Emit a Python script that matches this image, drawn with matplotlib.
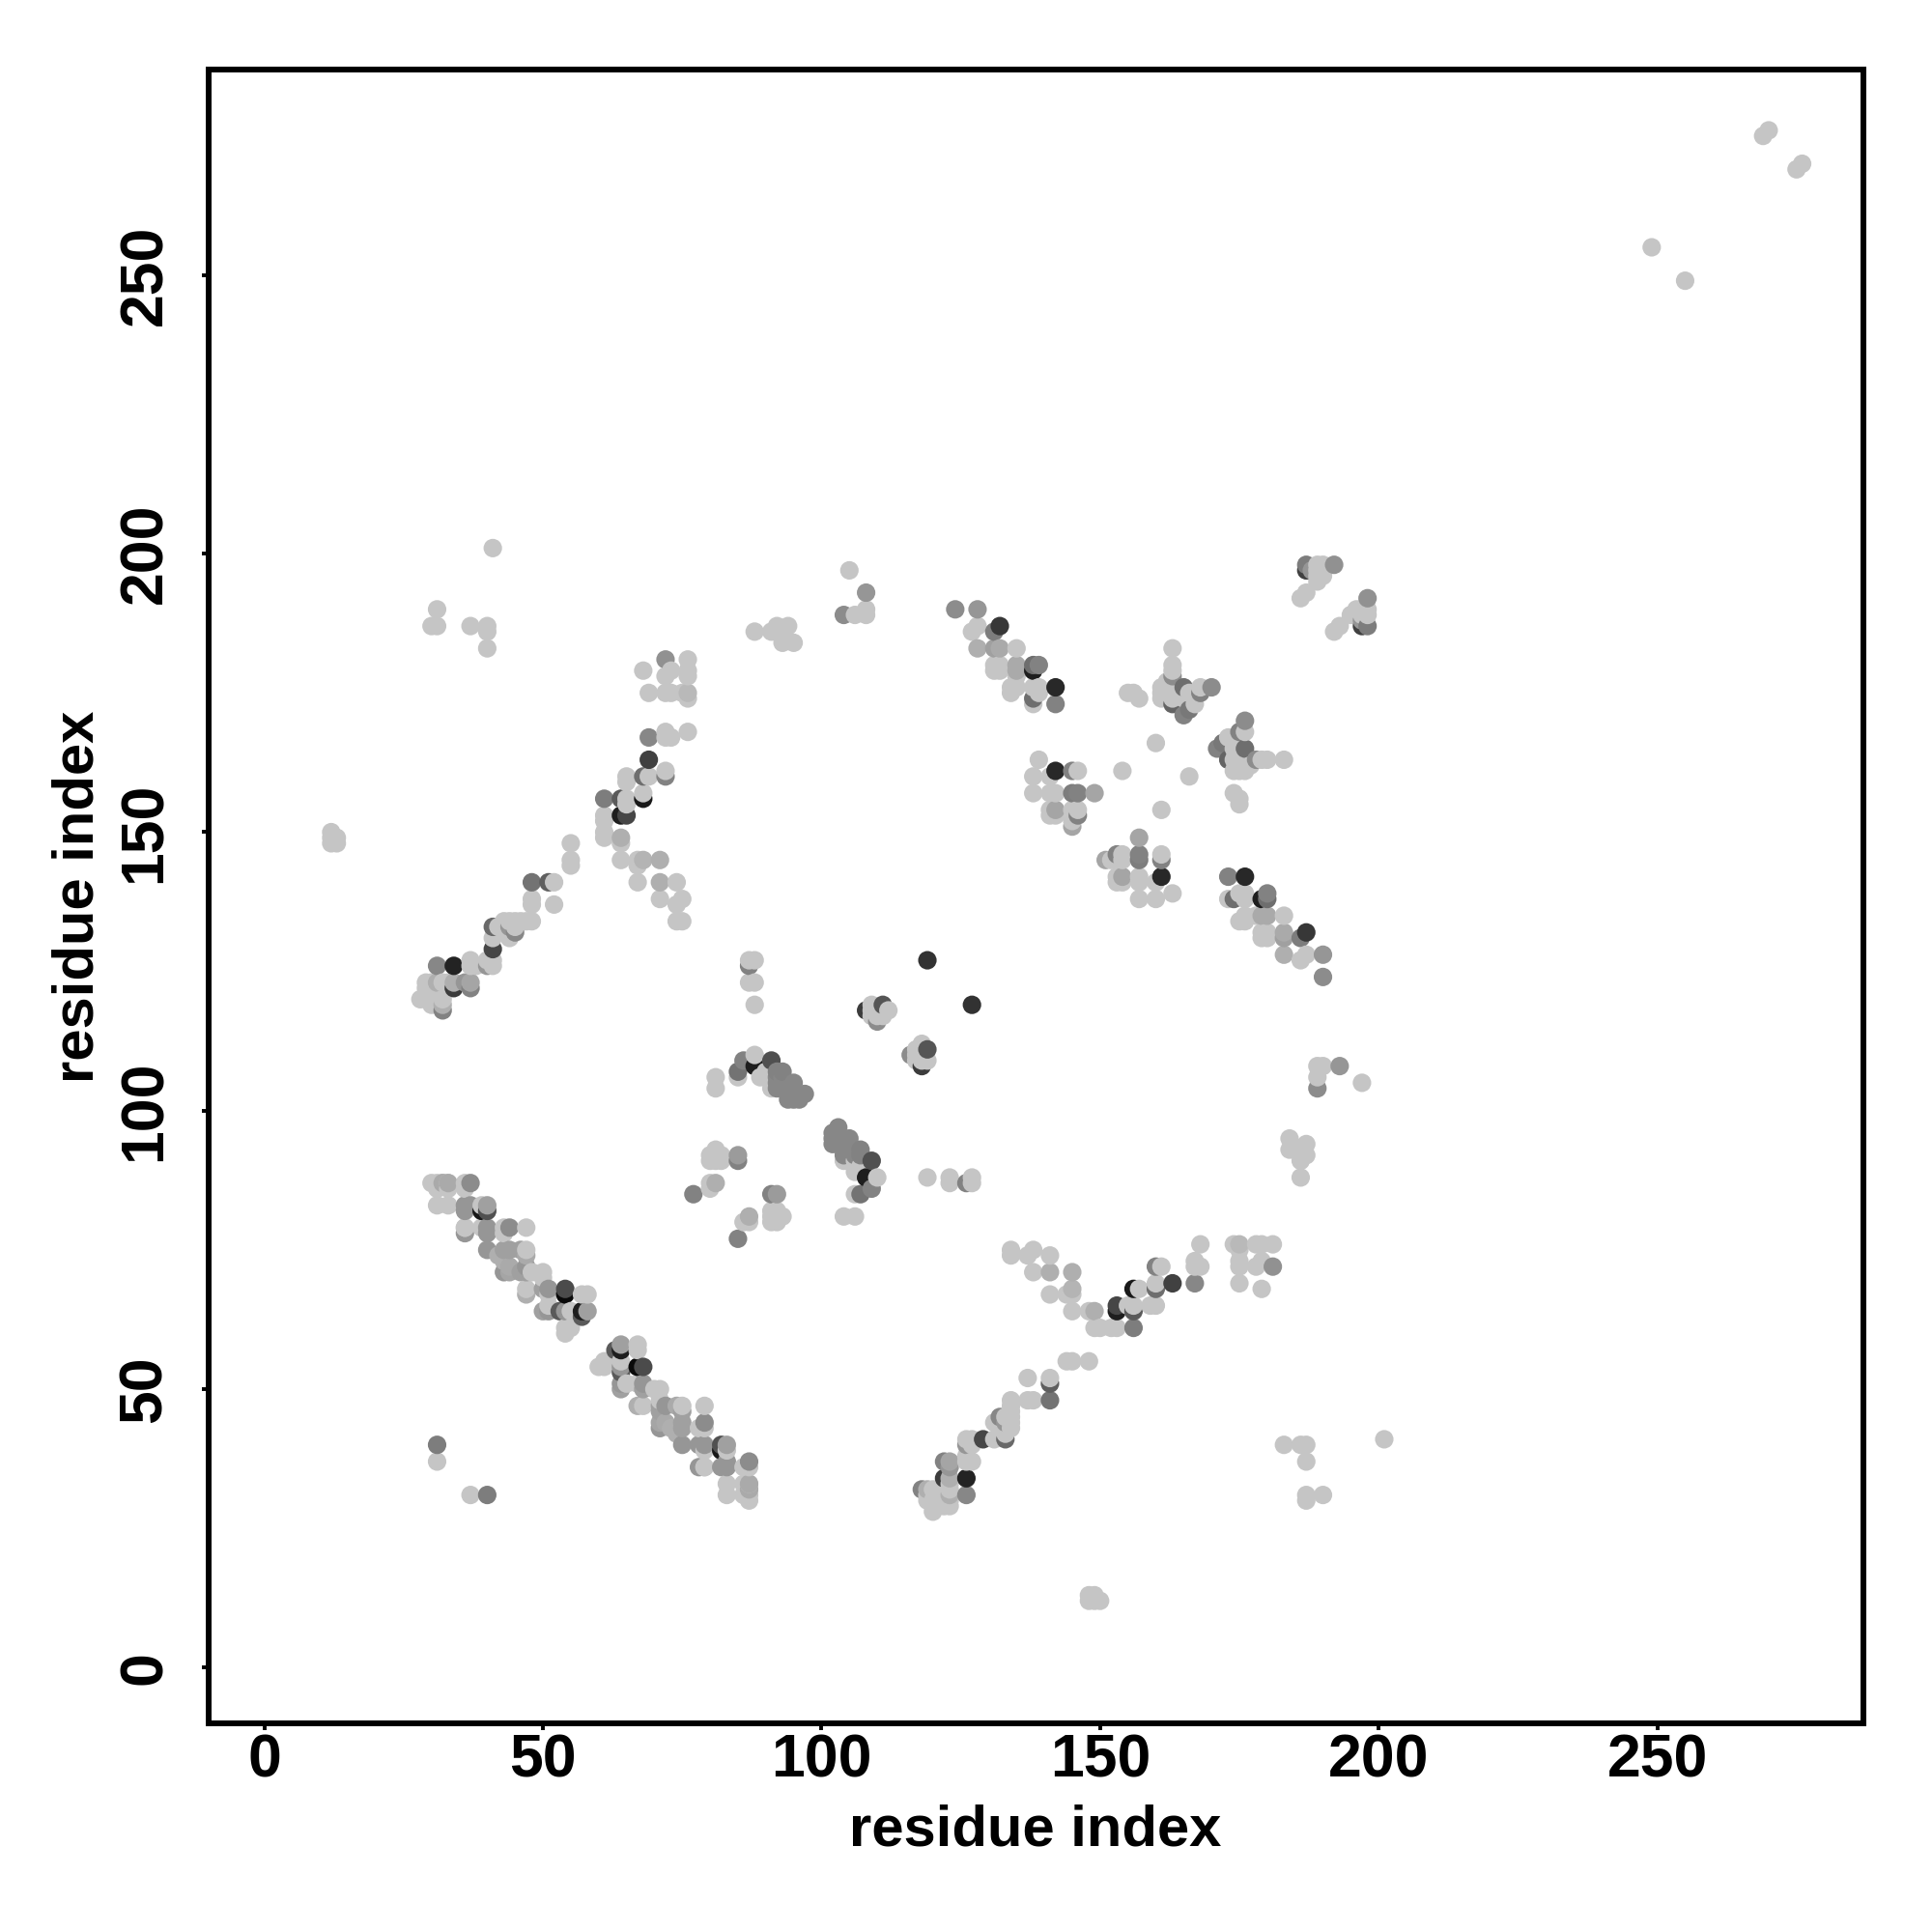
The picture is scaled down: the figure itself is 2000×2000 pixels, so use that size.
import numpy as np
import matplotlib
matplotlib.use("Agg")
import matplotlib.pyplot as plt

# contacts with i < j, the mirror half is added when plotting
# light contacts, all the same pale grey
light_i = [30, 31, 32, 33, 36, 31, 33, 39, 33, 31, 36, 36, 39, 43, 47, 47, 48, 50, 47, 57, 58, 51, 55, 54, 54, 55, 51, 50, 43, 36,
           28, 29, 29, 30, 31, 31, 32, 32, 29, 29, 30, 30, 31, 33, 30, 38, 37, 37, 41, 41, 40, 41, 44, 42, 45, 45, 47, 48, 43, 44, 46,
           48, 48, 52, 52, 55, 55, 55,
           61, 61, 61, 61, 64, 64, 67, 67, 67, 71, 74, 75, 74, 74, 75, 65, 65, 65, 65, 68, 69, 72, 72, 73, 72, 76,
           68, 73, 72, 76, 76, 76, 69, 72, 73, 75, 76,
           41, 31, 30, 31, 37, 40, 40, 40, 105, 106, 108, 108, 88, 91, 92, 94, 93, 95, 93,
           12, 13, 13, 12, 12, 31,
           81, 81, 85, 88, 89, 90, 91, 91, 90, 88, 88, 87, 88, 87, 109, 109, 109, 110, 111, 110, 112, 111,
           80, 80, 80, 80, 81, 81, 81, 82, 82,
           128, 127, 135, 131, 131, 132, 132, 135, 134, 134, 138, 139, 138, 139, 135,
           155, 156, 157, 163, 163, 163, 161, 161, 161, 162, 163, 163, 163, 165, 166, 167, 167, 168, 160, 154,
           139, 138, 141, 146, 138, 141, 142, 141, 141, 142, 146, 145, 145,
           189, 190, 189, 190, 189, 190, 189, 186, 187,
           249, 269, 270]
light_j = [87, 87, 87, 87, 87, 83, 83, 83, 86, 86, 86, 79, 79, 79, 79, 75, 71, 71, 68, 67, 67, 67, 64, 61, 60, 61, 65, 70, 78, 79,
           120, 120, 123, 122, 121, 122, 120, 123, 121, 122, 120, 123, 119, 123, 119, 126, 126, 127, 126, 127, 127, 131, 131, 133, 133, 134, 134, 134, 134, 134, 134,
           137, 138, 137, 141, 144, 145, 148,
           149, 150, 152, 153, 148, 145, 145, 144, 141, 138, 141, 138, 137, 134, 134, 155, 156, 159, 160, 157, 160, 161, 167, 167, 168, 168,
           179, 179, 178, 181, 179, 178, 175, 175, 175, 175, 174,
           201, 190, 187, 187, 187, 187, 186, 183, 197, 189, 189, 190, 186, 186, 187, 187, 184, 184, 186,
           148, 148, 149, 150, 149, 37,
           104, 106, 106, 110, 106, 106, 106, 104, 107, 119, 123, 123, 127, 127, 118, 117, 119, 117, 117, 118, 118, 118,
           86, 87, 91, 92, 91, 92, 93, 91, 92,
           187, 186, 183, 179, 180, 179, 180, 176, 175, 176, 176, 176, 173, 175, 178,
           175, 175, 174, 183, 180, 179, 174, 175, 176, 177, 174, 175, 176, 174, 175, 174, 173, 176, 166, 161,
           163, 160, 160, 161, 157, 157, 157, 153, 154, 153, 154, 152, 154,
           198, 198, 197, 197, 196, 196, 195, 192, 193,
           255, 275, 276]

# darker contacts with their own grey level (0 black, 255 white)
dark_i = [37, 36, 36, 39, 40, 40, 36, 40, 40, 44, 40, 42, 43, 44, 46, 47, 43, 43, 44, 44, 46, 47, 47, 47, 50, 51, 54, 54, 50, 51, 53, 54, 57, 58, 57, 33, 32, 37,
          31, 48, 51, 41, 44, 45, 41, 40, 31, 34, 34, 34, 36, 37, 37, 32, 31, 32,
          64, 68, 71, 71, 61, 64, 68, 64, 65, 69, 68, 72, 69, 72, 76, 108, 104,
          85, 86, 88, 91, 92, 93, 85, 85, 77, 87, 108, 111, 110, 119, 81,
          92, 92, 92, 93, 93, 93, 94, 94, 94, 95, 95, 95, 96, 97,
          124, 128, 131, 132, 128, 131, 132, 135, 138, 139, 138, 138, 142, 142, 135,
          163, 163, 165, 166, 165, 168, 170,
          142, 145, 145, 146, 149, 142, 146, 145,
          187, 187, 188, 192]
dark_j = [87, 83, 82, 82, 82, 83, 78, 79, 78, 79, 75, 74, 75, 75, 75, 74, 73, 71, 72, 71, 71, 71, 72, 67, 68, 68, 68, 67, 64, 64, 64, 64, 64, 64, 63, 87, 87, 83,
          40, 141, 141, 133, 133, 132, 129, 126, 126, 126, 122, 123, 123, 123, 122, 118, 123, 119,
          149, 145, 145, 141, 156, 156, 156, 153, 153, 163, 160, 160, 167, 181, 175, 193, 189,
          107, 109, 108, 109, 107, 107, 91, 92, 85, 126, 118, 119, 116, 127, 87,
          104, 105, 106, 104, 105, 106, 102, 103, 104, 102, 103, 105, 102, 103,
          190, 190, 186, 187, 183, 183, 183, 180, 180, 180, 179, 174, 176, 173, 179,
          178, 173, 176, 172, 171, 175, 176,
          161, 161, 157, 157, 157, 154, 153, 151,
          198, 197, 197, 198]
dark_shade = [140, 150, 150, 25, 80, 160, 150, 150, 150, 140, 150, 175, 160, 160, 160, 170, 175, 150, 170, 165, 160, 160, 150, 175, 160, 150, 75, 10, 160, 150, 90, 150, 30, 160, 90, 170, 170, 150,
              125, 115, 95, 105, 150, 135, 70, 150, 135, 35, 60, 175, 150, 165, 130, 130, 175, 175,
              175, 180, 175, 175, 125, 90, 25, 30, 70, 65, 110, 130, 135, 145, 185, 150, 140,
              115, 130, 30, 80, 130, 130, 130, 155, 130, 130, 60, 85, 140, 50, 175,
              135, 135, 135, 135, 135, 135, 135, 135, 135, 135, 135, 135, 135, 135,
              140, 150, 125, 55, 175, 160, 170, 170, 110, 130, 30, 110, 40, 130, 170,
              140, 100, 110, 120, 130, 130, 140,
              40, 130, 125, 130, 165, 165, 130, 165,
              125, 65, 150, 145]

light_grey = 197

tick_vals = [0, 50, 100, 150, 200, 250]

plt.rcParams["font.family"] = ["Liberation Sans", "DejaVu Sans"]
plt.rcParams["font.weight"] = "bold"

i_all = np.array(light_i + dark_i)
j_all = np.array(light_j + dark_j)
shade_all = np.array([light_grey] * len(light_i) + dark_shade)

# both halves of the symmetric map, drawn in order of x then y
x = np.concatenate([i_all, j_all])
y = np.concatenate([j_all, i_all])
shade = np.concatenate([shade_all, shade_all])
order = np.lexsort((y, x))

fig = plt.figure(figsize=(20, 20), dpi=100)
ax = fig.add_axes([216 / 2000, 216 / 2000, 1713 / 2000, 1712.5 / 2000])

ax.scatter(x[order], y[order], c=shade[order], cmap="gray", vmin=0, vmax=255,
           s=190, linewidths=0, clip_on=True)

ax.set_xlim(-10, 287)
ax.set_ylim(-10, 287)
ax.set_xticks(tick_vals)
ax.set_yticks(tick_vals)
ax.tick_params(axis="x", length=5, width=2.8, labelsize=45, pad=1.5)
ax.tick_params(axis="y", length=5, width=2.8, labelsize=45, pad=21)
for lab in ax.get_yticklabels():
    lab.set_rotation(90)
    lab.set_va("center")

for sp in ax.spines.values():
    sp.set_linewidth(4.3)

fig.text(1072 / 2000, 1 - 1895 / 2000, "residue index", fontsize=43, fontweight="bold",
         ha="center", va="center")
fig.text(81 / 2000, 1 - 928 / 2000, "residue index", fontsize=43, fontweight="bold",
         ha="center", va="center", rotation=90)

fig.savefig("out.png", dpi=100)
